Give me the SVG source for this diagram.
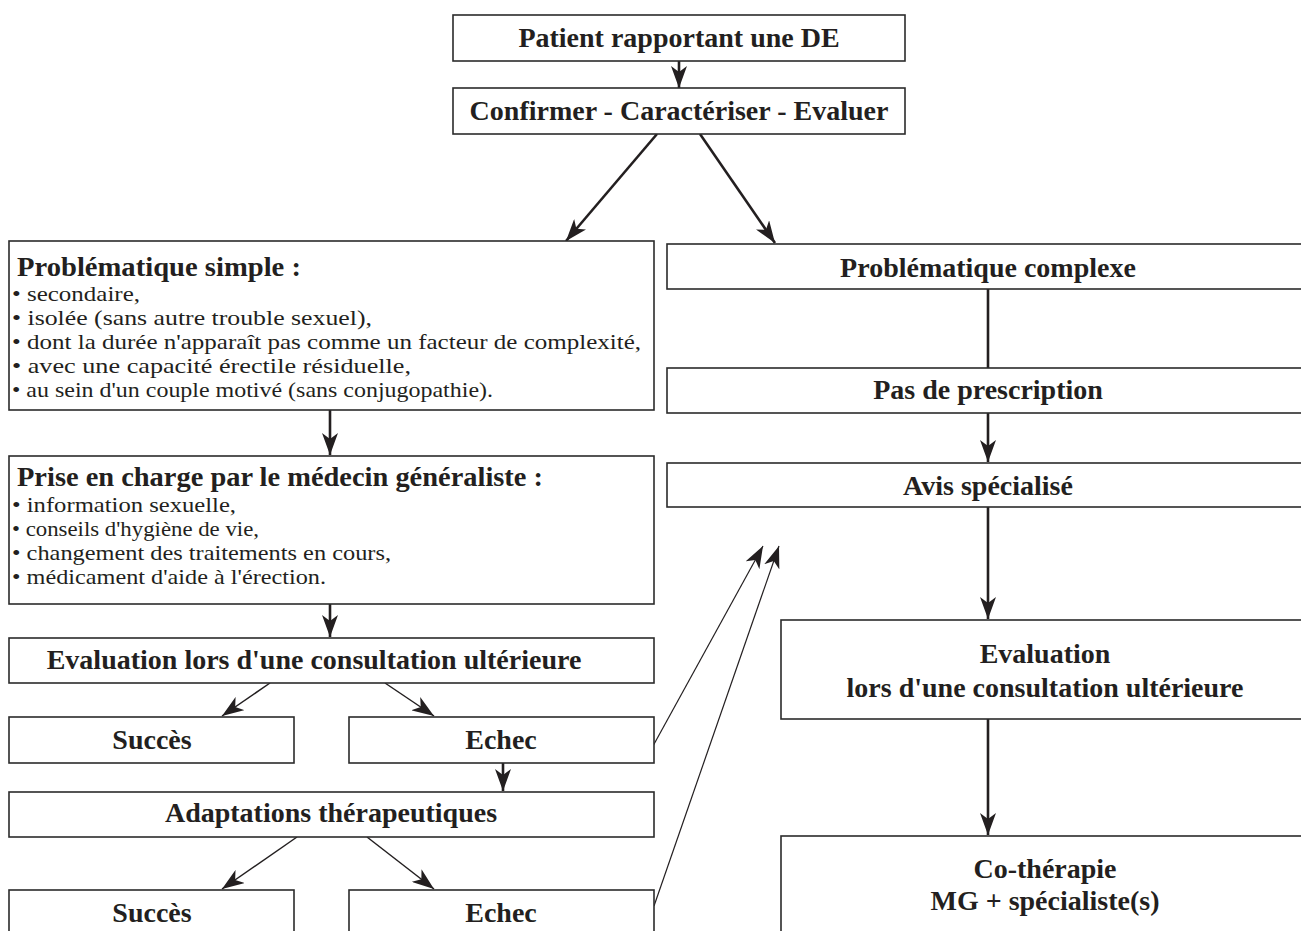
<svg xmlns="http://www.w3.org/2000/svg" width="1301" height="931" viewBox="0 0 1301 931">
<style>
.box{fill:#fff;stroke:#2b2b2b;stroke-width:1.6}
.h{font-family:"Liberation Serif",serif;font-weight:bold;font-size:28px;fill:#231f20}
.c{text-anchor:middle}
.b{font-family:"Liberation Serif",serif;font-size:21px;fill:#231f20}
.thick{stroke:#231f20;stroke-width:2.6;fill:none}
.thin{stroke:#231f20;stroke-width:1.5;fill:none}
.hair{stroke:#231f20;stroke-width:1.2;fill:none}
</style>
<defs>
<marker id="ah" markerUnits="userSpaceOnUse" markerWidth="24" markerHeight="16" refX="22" refY="8" orient="auto">
<path d="M0,0 L22,8 L0,16 L6,8 z" fill="#231f20"/>
</marker>
</defs>
<rect width="1301" height="931" fill="#fff"/>

<g id="connectors">
<line class="thick" x1="679" y1="61" x2="679" y2="88" marker-end="url(#ah)"/>
<line class="thick" x1="657" y1="134" x2="566" y2="241" marker-end="url(#ah)"/>
<line class="thick" x1="700" y1="134" x2="775" y2="243" marker-end="url(#ah)"/>
<line class="thick" x1="988" y1="289" x2="988" y2="368"/>
<line class="thick" x1="988" y1="413" x2="988" y2="462" marker-end="url(#ah)"/>
<line class="thick" x1="988" y1="507" x2="988" y2="619" marker-end="url(#ah)"/>
<line class="thick" x1="988" y1="719" x2="988" y2="835" marker-end="url(#ah)"/>
<line class="thick" x1="330" y1="410" x2="330" y2="455" marker-end="url(#ah)"/>
<line class="thick" x1="330" y1="604" x2="330" y2="637" marker-end="url(#ah)"/>
<line class="thin" x1="270" y1="683" x2="222" y2="716" marker-end="url(#ah)"/>
<line class="thin" x1="385" y1="683" x2="434" y2="716" marker-end="url(#ah)"/>
<line class="thick" x1="503" y1="763" x2="503" y2="791" marker-end="url(#ah)"/>
<line class="thin" x1="297" y1="837" x2="222" y2="889" marker-end="url(#ah)"/>
<line class="thin" x1="367" y1="837" x2="434" y2="889" marker-end="url(#ah)"/>
<line class="hair" x1="653" y1="746" x2="763" y2="546" marker-end="url(#ah)"/>
<line class="hair" x1="654" y1="906" x2="779" y2="546" marker-end="url(#ah)"/>
</g>

<g id="n-patient">
<rect class="box" x="453" y="15" width="452" height="46"/>
<text class="h c" x="679" y="47">Patient rapportant une DE</text>
</g>
<g id="n-confirmer">
<rect class="box" x="453" y="88" width="452" height="46"/>
<text class="h c" x="679" y="120">Confirmer - Caractériser - Evaluer</text>
</g>
<g id="n-simple">
<rect class="box" x="9" y="241" width="645" height="169"/>
<text class="h" x="17" y="276" textLength="284" lengthAdjust="spacingAndGlyphs">Problématique simple :</text>
<text class="b" x="12" y="301" textLength="128" lengthAdjust="spacingAndGlyphs">• secondaire,</text>
<text class="b" x="12" y="325" textLength="360" lengthAdjust="spacingAndGlyphs">• isolée (sans autre trouble sexuel),</text>
<text class="b" x="12" y="349" textLength="629" lengthAdjust="spacingAndGlyphs">• dont la durée n'apparaît pas comme un facteur de complexité,</text>
<text class="b" x="12" y="373" textLength="399" lengthAdjust="spacingAndGlyphs">• avec une capacité érectile résiduelle,</text>
<text class="b" x="12" y="397" textLength="481" lengthAdjust="spacingAndGlyphs">• au sein d'un couple motivé (sans conjugopathie).</text>
</g>
<g id="n-prise">
<rect class="box" x="9" y="456" width="645" height="148"/>
<text class="h" x="17" y="486" textLength="526" lengthAdjust="spacingAndGlyphs">Prise en charge par le médecin généraliste :</text>
<text class="b" x="12" y="512" textLength="224" lengthAdjust="spacingAndGlyphs">• information sexuelle,</text>
<text class="b" x="12" y="536" textLength="247" lengthAdjust="spacingAndGlyphs">• conseils d'hygiène de vie,</text>
<text class="b" x="12" y="560" textLength="379" lengthAdjust="spacingAndGlyphs">• changement des traitements en cours,</text>
<text class="b" x="12" y="584" textLength="314" lengthAdjust="spacingAndGlyphs">• médicament d'aide à l'érection.</text>
</g>
<g id="n-eval1">
<rect class="box" x="9" y="638" width="645" height="45"/>
<text class="h c" x="314" y="669">Evaluation lors d'une consultation ultérieure</text>
</g>
<g id="n-succes1">
<rect class="box" x="9" y="717" width="285" height="46"/>
<text class="h c" x="152" y="749">Succès</text>
</g>
<g id="n-echec1">
<rect class="box" x="349" y="717" width="305" height="46"/>
<text class="h c" x="501" y="749">Echec</text>
</g>
<g id="n-adapt">
<rect class="box" x="9" y="792" width="645" height="45"/>
<text class="h c" x="331" y="822">Adaptations thérapeutiques</text>
</g>
<g id="n-succes2">
<rect class="box" x="9" y="890" width="285" height="50"/>
<text class="h c" x="152" y="922">Succès</text>
</g>
<g id="n-echec2">
<rect class="box" x="349" y="890" width="305" height="50"/>
<text class="h c" x="501" y="922">Echec</text>
</g>
<g id="n-complexe">
<rect class="box" x="667" y="244" width="650" height="45"/>
<text class="h c" x="988" y="277">Problématique complexe</text>
</g>
<g id="n-prescription">
<rect class="box" x="667" y="368" width="650" height="45"/>
<text class="h c" x="988" y="399">Pas de prescription</text>
</g>
<g id="n-avis">
<rect class="box" x="667" y="463" width="650" height="44"/>
<text class="h c" x="988" y="495">Avis spécialisé</text>
</g>
<g id="n-eval2">
<rect class="box" x="781" y="620" width="536" height="99"/>
<text class="h c" x="1045" y="663">Evaluation</text>
<text class="h c" x="1045" y="697">lors d'une consultation ultérieure</text>
</g>
<g id="n-cotherapie">
<rect class="box" x="781" y="836" width="536" height="110"/>
<text class="h c" x="1045" y="878">Co-thérapie</text>
<text class="h c" x="1045" y="910">MG + spécialiste(s)</text>
</g>
</svg>
